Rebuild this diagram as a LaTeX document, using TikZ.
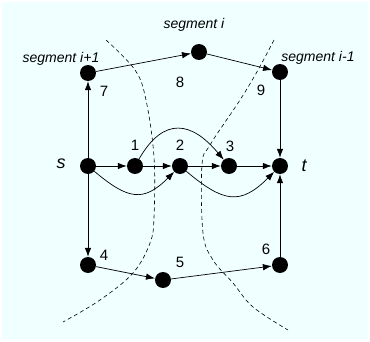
\documentclass[tikz,border=0pt]{standalone}
\usepackage{fontspec}
\setmainfont{Liberation Sans}
\usetikzlibrary{positioning,arrows.meta}
\definecolor{bgcol}{RGB}{240,255,255}

\tikzset{
  vtx/.style={circle, fill=black, minimum size=16pt, inner sep=0pt},
  num/.style={font=\fontsize{15}{17}\selectfont},
  term/.style={font=\fontsize{18}{20}\selectfont\itshape},
  seglab/.style={font=\fontsize{14}{16}\selectfont\itshape},
  cut/.style={line width=0.6pt, dash pattern=on 4pt off 3pt}
}

\begin{document}
\begin{tikzpicture}[x=1pt, y=1pt, >={Latex[length=9pt,width=6.5pt]}]
\useasboundingbox (0,0) rectangle (370,341);
\fill[bgcol] (2,2) rectangle (368,339);
% vertices
\node[vtx] (s) at (88,175) {};
\node[vtx] (v1) at (135,175) {};
\node[vtx] (v2) at (180,175) {};
\node[vtx] (v3) at (229,175) {};
\node[vtx] (t) at (280,175) {};
\node[vtx] (v7) at (88,268) {};
\node[vtx] (v8) at (199,289) {};
\node[vtx] (v9) at (280,269) {};
\node[vtx] (v4) at (88,76) {};
\node[vtx] (v5) at (163,61) {};
\node[vtx] (v6) at (280,76) {};
% labels
\node[term] (ls) at (61,177) {s};
\node[term] (lt) at (304,175) {t};
\node[num] (l1) at (135,196) {1};
\node[num] (l2) at (180,196) {2};
\node[num] (l3) at (230,195) {3};
\node[num] (l7) at (104,250) {7};
\node[num] (l8) at (180,259) {8};
\node[num] (l9) at (261,251) {9};
\node[num] (l4) at (104,86) {4};
\node[num] (l5) at (180,79) {5};
\node[num] (l6) at (266,92) {6};
\node[seglab] (seg1) at (61,282) {segment i+1};
\node[seglab] (seg2) at (194,316) {segment i};
\node[seglab] (seg3) at (318,283) {segment i-1};
% cuts
\draw[cut] plot[smooth, tension=0.6] coordinates {(106,301) (135,271) (146,241) (154,184) (154,124) (150,98) (133,68) (100,41) (63,19)};
\draw[cut] plot[smooth, tension=0.6] coordinates {(274,301) (258,271) (240,241) (210,196) (202,176) (203,108) (213,81) (233,58) (253,34) (288,11)};
% edges
\draw[->, line width=0.7pt] (s) -- (v1);
\draw[->, line width=0.7pt] (v1) -- (v2);
\draw[->, line width=0.7pt] (v2) -- (v3);
\draw[->, line width=0.7pt] (v3) -- (t);
\draw[->, line width=0.7pt] (s) -- (v7);
\draw[->, line width=0.7pt] (v7) -- (v8);
\draw[->, line width=0.7pt] (v8) -- (v9);
\draw[->, line width=0.7pt] (v9) -- (t);
\draw[->, line width=0.7pt] (s) -- (v4);
\draw[->, line width=0.7pt] (v4) -- (v5);
\draw[->, line width=0.7pt] (v5) -- (v6);
\draw[->, line width=0.7pt] (v6) -- (t);
\draw[->, line width=0.7pt] (v1) to[out=60, in=130, looseness=1.5] (v3);
\draw[->, line width=0.7pt] (s) to[out=-40, in=-135, looseness=1.4] (v2);
\draw[->, line width=0.7pt] (v2) to[out=-40, in=-135, looseness=1.4] (t);
\end{tikzpicture}
\end{document}
